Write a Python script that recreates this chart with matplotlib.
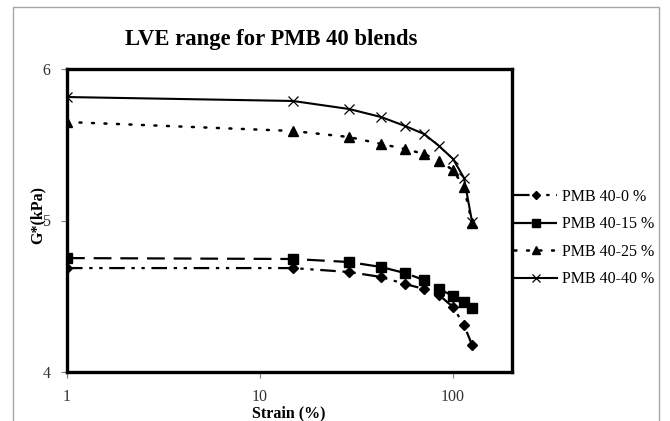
import matplotlib
matplotlib.use("Agg")
import matplotlib.pyplot as plt
from matplotlib.patches import Rectangle

# ---- data ----
strain = [1, 14.8, 28.9, 42.4, 56.4, 70.8, 84.6, 100.0, 113.9, 125.5]
g_0 = [4.686, 4.686, 4.660, 4.627, 4.581, 4.548, 4.508, 4.429, 4.310, 4.178]
g_15 = [4.752, 4.746, 4.726, 4.693, 4.653, 4.607, 4.548, 4.502, 4.462, 4.422]
g_25 = [5.650, 5.591, 5.551, 5.505, 5.472, 5.439, 5.393, 5.333, 5.221, 4.983]
g_40 = [5.815, 5.789, 5.736, 5.683, 5.624, 5.571, 5.492, 5.406, 5.281, 4.990]
labels = ["PMB 40-0 %", "PMB 40-15 %", "PMB 40-25 %", "PMB 40-40 %"]
x_ticks = [1, 10, 100]
x_tick_labels = ["1", "10", "100"]
y_ticks = [4, 5, 6]
y_tick_labels = ["4", "5", "6"]
title = "LVE range for PMB 40 blends"
xlabel = "Strain (%)"
ylabel = "G*(kPa)"

serif = ["Liberation Serif", "DejaVu Serif"]
plt.rcParams["font.family"] = serif

W, H = 670, 421
fig = plt.figure(figsize=(W / 100, H / 100), dpi=100)
fig.patch.set_facecolor("white")

# outer gray border (extends below the image)
fig.patches.append(Rectangle((13 / W, -0.05), (659 - 13) / W, 1.05 - 7 / H,
                             transform=fig.transFigure, fill=False,
                             edgecolor="#a6a6a6", linewidth=1.0))

ax = fig.add_axes([67 / W, (H - 372) / H, (512 - 67) / W, (372 - 69) / H])
ax.set_xscale("log")
ax.set_xlim(1, 202)
ax.set_ylim(4, 6)

ax.plot(strain, g_0, color="black", lw=1.6, linestyle=(0, (7, 3, 1.5, 3, 1.5, 3)),
        marker="D", markersize=5.2, label=labels[0])
ax.plot(strain, g_15, color="black", lw=1.6, linestyle=(0, (8, 4)),
        marker="s", markersize=7.5, label=labels[1])
ax.plot(strain, g_25, color="black", lw=1.8, linestyle=(0, (0.8, 4.2)),
        dash_capstyle="round", marker="^", markersize=7.2, label=labels[2])
ax.plot(strain, g_40, color="black", lw=1.5, linestyle="-",
        marker="x", markersize=7, markeredgewidth=0.9, label=labels[3])

for s in ax.spines.values():
    s.set_linewidth(2.4)
    s.set_color("black")

ax.set_xticks(x_ticks)
ax.set_xticklabels(x_tick_labels)
ax.set_yticks(y_ticks)
ax.set_yticklabels(y_tick_labels)
ax.minorticks_off()
ax.tick_params(axis="both", direction="out", length=4, width=0.8, color="#808080",
               labelsize=11.5, labelcolor="#333333")
ax.tick_params(axis="y", pad=8)
ax.tick_params(axis="x", pad=8)

fig.text(271 / W, 1 - 39 / H, title, ha="center", va="center",
         fontsize=16.3, fontweight="bold", family=serif)
fig.text(289 / W, 1 - 413 / H, xlabel, ha="center", va="center",
         fontsize=11.5, fontweight="bold", family=serif)
fig.text(38 / W, 1 - 215 / H, ylabel, ha="center", va="center", rotation=90,
         fontsize=11.5, fontweight="bold", family=serif)

fig.legend(loc="center left", bbox_to_anchor=(514 / W, 1 - 238 / H),
           frameon=False, fontsize=11.5, handlelength=2.7, handletextpad=0.3,
           labelspacing=0.72, borderpad=0, borderaxespad=0, markerscale=0.85)

fig.savefig("out.png", dpi=100, facecolor="white")
